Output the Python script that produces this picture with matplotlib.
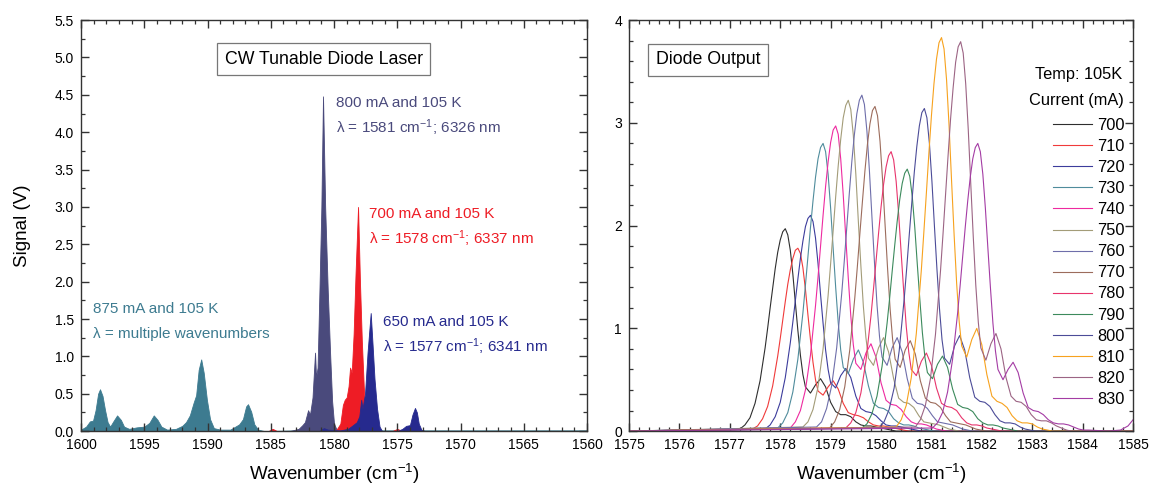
import numpy as np
import matplotlib.pyplot as plt
from matplotlib.ticker import MultipleLocator

plt.rcParams['font.family'] = ['Liberation Sans', 'DejaVu Sans']
plt.rcParams['mathtext.fontset'] = 'custom'
plt.rcParams['mathtext.rm'] = 'Liberation Sans'
plt.rcParams['mathtext.it'] = 'Liberation Sans:italic'

# ---- left panel: CW tunable diode laser spectra ----
teal_x = [1600.0, 1599.6, 1599.3, 1599.05, 1598.85, 1598.65, 1598.5, 1598.3, 1598.1, 1597.9,
          1597.7, 1597.45, 1597.15, 1596.85, 1596.6, 1596.2, 1595.6, 1595.0, 1594.6, 1594.25,
          1593.95, 1593.65, 1593.2, 1592.5, 1592.0, 1591.7, 1591.4, 1591.1, 1590.9, 1590.7,
          1590.5, 1590.3, 1590.05, 1589.8, 1589.5, 1589.0, 1588.2, 1587.8, 1587.5, 1587.2,
          1586.95, 1586.8, 1586.55, 1586.3, 1586.0, 1585.5, 1583.0, 1560.0]
teal_y = [0.02, 0.06, 0.13, 0.14, 0.28, 0.50, 0.56, 0.47, 0.28, 0.12,
          0.06, 0.13, 0.21, 0.15, 0.06, 0.03, 0.05, 0.06, 0.11, 0.21,
          0.15, 0.06, 0.02, 0.03, 0.07, 0.12, 0.21, 0.38, 0.48, 0.82,
          0.96, 0.78, 0.42, 0.16, 0.04, 0.02, 0.02, 0.06, 0.09, 0.16,
          0.33, 0.36, 0.26, 0.09, 0.02, 0.0, 0.01, 0.01]

slate_x = [1583.5, 1582.8, 1582.5, 1582.3, 1582.05, 1581.9, 1581.7, 1581.5, 1581.42, 1581.3,
           1581.15, 1581.0, 1580.87, 1580.7, 1580.5, 1580.3, 1580.15, 1580.0, 1579.8, 1579.5]
slate_y = [0.0, 0.03, 0.08, 0.12, 0.28, 0.22, 0.45, 1.05, 0.72, 0.85,
           1.9, 3.0, 4.48, 3.0, 1.9, 1.0, 0.4, 0.1, 0.02, 0.0]

red_x = [1585.2, 1584.85, 1584.5, 1580.2, 1579.8, 1579.5, 1579.3, 1579.15, 1579.0, 1578.85,
         1578.73, 1578.6, 1578.45, 1578.3, 1578.1, 1577.95, 1577.8, 1577.65, 1577.5, 1577.3,
         1577.1, 1575.4, 1575.0, 1574.6]
red_y = [0.0, 0.03, 0.0, 0.0, 0.02, 0.10, 0.35, 0.42, 0.45, 0.60,
         0.85, 0.78, 1.3, 2.1, 3.0, 2.0, 1.2, 0.6, 0.2, 0.03,
         0.0, 0.0, 0.03, 0.0]

navy_x = [1581.2, 1580.8, 1580.5, 1579.5, 1578.9, 1578.5, 1578.2, 1578.0, 1577.85, 1577.75,
          1577.55, 1577.35, 1577.1, 1576.95, 1576.8, 1576.6, 1576.4, 1576.2, 1575.0, 1574.6,
          1574.3, 1574.0, 1573.8, 1573.6, 1573.45, 1573.3, 1573.1, 1572.8]
navy_y = [0.0, 0.04, 0.02, 0.01, 0.03, 0.08, 0.12, 0.20, 0.42, 0.30,
          0.50, 1.05, 1.58, 1.15, 0.70, 0.30, 0.06, 0.0, 0.0, 0.03,
          0.07, 0.08, 0.22, 0.31, 0.25, 0.10, 0.02, 0.0]

# ---- right panel: diode output vs drive current (Temp 105 K) ----
currents = [700, 710, 720, 730, 740, 750, 760, 770, 780, 790, 800, 810, 820, 830]
peaks = [1578.1, 1578.35, 1578.6, 1578.85, 1579.1, 1579.35, 1579.62,
         1579.88, 1580.2, 1580.52, 1580.86, 1581.2, 1581.58, 1581.92]
# sample positions relative to each main peak (cm-1)
offsets = [-0.9, -0.8, -0.7, -0.6, -0.5, -0.4, -0.35, -0.3, -0.25, -0.2, -0.15, -0.1, -0.05, 0.0,
           0.05, 0.1, 0.15, 0.2, 0.25, 0.3, 0.35, 0.4, 0.5, 0.6, 0.7, 0.8, 0.9, 1.0, 1.1, 1.2,
           1.3, 1.4, 1.5, 1.6, 1.7, 1.8, 1.9, 2.0, 2.1, 2.2]

i700 = [0.02, 0.06, 0.13, 0.27, 0.49, 0.81, 1.00, 1.20, 1.39, 1.58, 1.74, 1.86, 1.94, 1.97,
        1.91, 1.76, 1.53, 1.25, 0.98, 0.74, 0.55, 0.43, 0.37, 0.45, 0.51, 0.43, 0.28, 0.19, 0.16,
        0.16, 0.14, 0.09, 0.06, 0.05, 0.05, 0.04, 0.03, 0.02, 0.01, 0.0]
i710 = [0.02, 0.05, 0.12, 0.24, 0.44, 0.73, 0.90, 1.08, 1.26, 1.43, 1.57, 1.68, 1.76, 1.78,
        1.73, 1.59, 1.38, 1.13, 0.89, 0.67, 0.50, 0.39, 0.35, 0.43, 0.49, 0.41, 0.27, 0.18, 0.16,
        0.15, 0.13, 0.09, 0.06, 0.05, 0.05, 0.04, 0.03, 0.02, 0.01, 0.0]
i720 = [0.02, 0.06, 0.14, 0.28, 0.52, 0.86, 1.06, 1.27, 1.48, 1.68, 1.85, 1.99, 2.07, 2.10,
        2.04, 1.88, 1.63, 1.33, 1.05, 0.79, 0.60, 0.47, 0.42, 0.54, 0.61, 0.52, 0.34, 0.22, 0.19,
        0.18, 0.15, 0.10, 0.06, 0.05, 0.05, 0.04, 0.03, 0.02, 0.01, 0.0]
i730 = [0.03, 0.08, 0.18, 0.38, 0.70, 1.15, 1.42, 1.70, 1.98, 2.24, 2.47, 2.65, 2.76, 2.80,
        2.72, 2.50, 2.17, 1.78, 1.40, 1.06, 0.79, 0.62, 0.56, 0.70, 0.79, 0.67, 0.44, 0.27, 0.23,
        0.22, 0.19, 0.12, 0.08, 0.06, 0.06, 0.05, 0.03, 0.02, 0.01, 0.0]
i740 = [0.03, 0.09, 0.20, 0.40, 0.74, 1.22, 1.50, 1.80, 2.10, 2.38, 2.62, 2.81, 2.93, 2.97,
        2.89, 2.65, 2.30, 1.89, 1.49, 1.12, 0.84, 0.66, 0.60, 0.76, 0.85, 0.72, 0.47, 0.30, 0.26,
        0.25, 0.21, 0.14, 0.09, 0.07, 0.07, 0.06, 0.04, 0.02, 0.01, 0.0]
i750 = [0.04, 0.09, 0.21, 0.43, 0.80, 1.32, 1.63, 1.95, 2.28, 2.58, 2.84, 3.05, 3.17, 3.22,
        3.13, 2.88, 2.50, 2.04, 1.61, 1.21, 0.91, 0.71, 0.64, 0.81, 0.91, 0.77, 0.51, 0.32, 0.28,
        0.27, 0.23, 0.15, 0.09, 0.08, 0.07, 0.06, 0.04, 0.02, 0.01, 0.0]
i760 = [0.04, 0.09, 0.22, 0.44, 0.81, 1.34, 1.65, 1.98, 2.31, 2.62, 2.88, 3.09, 3.22, 3.27,
        3.18, 2.92, 2.53, 2.08, 1.64, 1.23, 0.92, 0.72, 0.64, 0.81, 0.91, 0.77, 0.51, 0.32, 0.27,
        0.26, 0.22, 0.15, 0.09, 0.08, 0.07, 0.06, 0.04, 0.02, 0.01, 0.0]
i770 = [0.03, 0.09, 0.21, 0.43, 0.79, 1.30, 1.60, 1.92, 2.23, 2.53, 2.79, 2.99, 3.12, 3.16,
        3.07, 2.82, 2.45, 2.01, 1.58, 1.19, 0.89, 0.70, 0.62, 0.79, 0.88, 0.75, 0.49, 0.32, 0.28,
        0.27, 0.23, 0.15, 0.09, 0.08, 0.07, 0.06, 0.04, 0.02, 0.01, 0.0]
i780 = [0.03, 0.08, 0.18, 0.37, 0.68, 1.12, 1.38, 1.65, 1.92, 2.18, 2.40, 2.57, 2.68, 2.72,
        2.64, 2.43, 2.11, 1.73, 1.36, 1.02, 0.77, 0.60, 0.54, 0.68, 0.76, 0.64, 0.42, 0.27, 0.24,
        0.23, 0.20, 0.13, 0.08, 0.06, 0.06, 0.05, 0.03, 0.02, 0.01, 0.0]
i790 = [0.03, 0.07, 0.17, 0.34, 0.63, 1.05, 1.29, 1.55, 1.80, 2.04, 2.25, 2.41, 2.51, 2.55,
        2.48, 2.28, 1.98, 1.62, 1.28, 0.96, 0.72, 0.57, 0.51, 0.65, 0.73, 0.62, 0.41, 0.26, 0.23,
        0.22, 0.19, 0.12, 0.08, 0.06, 0.06, 0.05, 0.03, 0.02, 0.01, 0.0]
i800 = [0.03, 0.09, 0.21, 0.42, 0.78, 1.29, 1.59, 1.91, 2.22, 2.52, 2.77, 2.97, 3.10, 3.14,
        3.05, 2.80, 2.43, 1.99, 1.57, 1.19, 0.89, 0.71, 0.65, 0.83, 0.93, 0.79, 0.52, 0.33, 0.29,
        0.28, 0.24, 0.16, 0.10, 0.08, 0.08, 0.07, 0.04, 0.02, 0.01, 0.0]
i810 = [0.04, 0.11, 0.25, 0.52, 0.95, 1.57, 1.94, 2.32, 2.71, 3.07, 3.38, 3.62, 3.78, 3.83,
        3.72, 3.42, 2.97, 2.43, 1.91, 1.44, 1.07, 0.83, 0.72, 0.89, 1.00, 0.84, 0.55, 0.34, 0.29,
        0.27, 0.23, 0.15, 0.10, 0.08, 0.08, 0.07, 0.04, 0.02, 0.01, 0.0]
i820 = [0.04, 0.11, 0.25, 0.51, 0.94, 1.56, 1.92, 2.30, 2.68, 3.04, 3.34, 3.59, 3.74, 3.79,
        3.68, 3.38, 2.94, 2.41, 1.89, 1.42, 1.06, 0.81, 0.69, 0.85, 0.95, 0.80, 0.52, 0.34, 0.29,
        0.28, 0.24, 0.16, 0.11, 0.10, 0.10, 0.08, 0.05, 0.03, 0.01, 0.0]
i830 = [0.03, 0.08, 0.18, 0.38, 0.70, 1.15, 1.42, 1.70, 1.98, 2.24, 2.47, 2.65, 2.76, 2.80,
        2.72, 2.50, 2.17, 1.78, 1.40, 1.05, 0.78, 0.60, 0.50, 0.60, 0.67, 0.57, 0.37, 0.23, 0.20,
        0.19, 0.16, 0.11, 0.08, 0.07, 0.07, 0.06, 0.04, 0.02, 0.01, 0.01]
spectra = [i700, i710, i720, i730, i740, i750, i760, i770, i780, i790, i800, i810, i820, i830]

# rise of the 830 mA trace at the right edge
edge830_x = [1584.5, 1584.75, 1584.9, 1585.0]
edge830_y = [0.0, 0.01, 0.05, 0.11]

colors = ['#2e2e2e', '#f03a3a', '#3c3c9c', '#4f8c9c', '#ee2aa0', '#a39c78', '#6e6eaa',
          '#9c6c5c', '#e8346c', '#3c8a5c', '#4c4c98', '#f7a21e', '#9c6484', '#a43ca4']

WN_MIN, WN_MAX = 1575, 1585

fig = plt.figure(figsize=(11.51, 4.91), dpi=100)
ax1 = fig.add_axes([0.0704, 0.122, 0.4396, 0.837])
ax2 = fig.add_axes([0.5465, 0.122, 0.4379, 0.837])

# left panel
for x, y, c in [(teal_x, teal_y, '#3d7b90'), (slate_x, slate_y, '#4a4a7c'),
                (red_x, red_y, '#ee1c25'), (navy_x, navy_y, '#262a8e')]:
    ax1.fill_between(x, y, 0, color=c, lw=0.6, edgecolor=c)

ax1.set_xlim(1600, 1560)
ax1.set_ylim(0, 5.5)
ax1.xaxis.set_major_locator(MultipleLocator(5))
ax1.xaxis.set_minor_locator(MultipleLocator(1))
ax1.yaxis.set_major_locator(MultipleLocator(0.5))
ax1.yaxis.set_minor_locator(MultipleLocator(0.25))
ax1.set_xlabel('Wavenumber (cm$^{-1}$)', fontsize=13.5, labelpad=7)
ax1.set_ylabel('Signal (V)', fontsize=13.5, labelpad=17)

ax1.text(0.48, 0.905, 'CW Tunable Diode Laser', transform=ax1.transAxes, fontsize=12.8,
         ha='center', va='center',
         bbox=dict(boxstyle='square,pad=0.42', fc='white', ec='#777777', lw=0.9))

notes = [
    (1579.85, 4.39, '800 mA and 105 K', 'λ = 1581 cm$^{-1}$; 6326 nm', '#4a4a7c'),
    (1577.25, 2.90, '700 mA and 105 K', 'λ = 1578 cm$^{-1}$; 6337 nm', '#ee1c25'),
    (1576.15, 1.46, '650 mA and 105 K', 'λ = 1577 cm$^{-1}$; 6341 nm', '#262a8e'),
    (1599.05, 1.63, '875 mA and 105 K', 'λ = multiple wavenumbers', '#3d7b90'),
]
for x, y, l1, l2, c in notes:
    ax1.text(x, y, l1, color=c, fontsize=11, ha='left', va='center')
    ax1.text(x, y - 0.33, l2, color=c, fontsize=11, ha='left', va='center')

# right panel
for cur, pk, sp, c in zip(currents, peaks, spectra, colors):
    x = pk + np.array(offsets)
    y = np.array(sp)
    if cur == 830:
        x = np.concatenate([x, edge830_x])
        y = np.concatenate([y, edge830_y])
    x = np.concatenate([[WN_MIN], x, [WN_MAX]])
    y = np.concatenate([[0], y, [y[-1]]])
    ax2.plot(x, y, color=c, lw=0.8, label=str(cur))

ax2.set_xlim(WN_MIN, WN_MAX)
ax2.set_ylim(0, 4)
ax2.xaxis.set_major_locator(MultipleLocator(1))
ax2.xaxis.set_minor_locator(MultipleLocator(0.2))
ax2.yaxis.set_major_locator(MultipleLocator(1))
ax2.yaxis.set_minor_locator(MultipleLocator(0.2))
ax2.set_xlabel('Wavenumber (cm$^{-1}$)', fontsize=13.5, labelpad=7)

ax2.text(0.157, 0.903, 'Diode Output', transform=ax2.transAxes, fontsize=12.8,
         ha='center', va='center',
         bbox=dict(boxstyle='square,pad=0.42', fc='white', ec='#777777', lw=0.9))
ax2.text(0.978, 0.868, 'Temp: 105K', transform=ax2.transAxes, fontsize=11.8,
         ha='right', va='center')
ax2.text(0.982, 0.805, 'Current (mA)', transform=ax2.transAxes, fontsize=11.8,
         ha='right', va='center')
ax2.legend(loc='upper right', bbox_to_anchor=(0.984, 0.762), frameon=False, fontsize=11.8,
           handlelength=2.4, handletextpad=0.3, labelspacing=0.37, borderpad=0,
           borderaxespad=0)

for ax in (ax1, ax2):
    ax.tick_params(which='both', direction='in', top=True, right=True, labelsize=10,
                   color='#333333')
    ax.tick_params(which='major', length=6, width=1, pad=5)
    ax.tick_params(which='minor', length=3, width=0.9)
    for s in ax.spines.values():
        s.set_linewidth(1.0)
        s.set_color('#333333')

fig.savefig('out.png', dpi=100)
